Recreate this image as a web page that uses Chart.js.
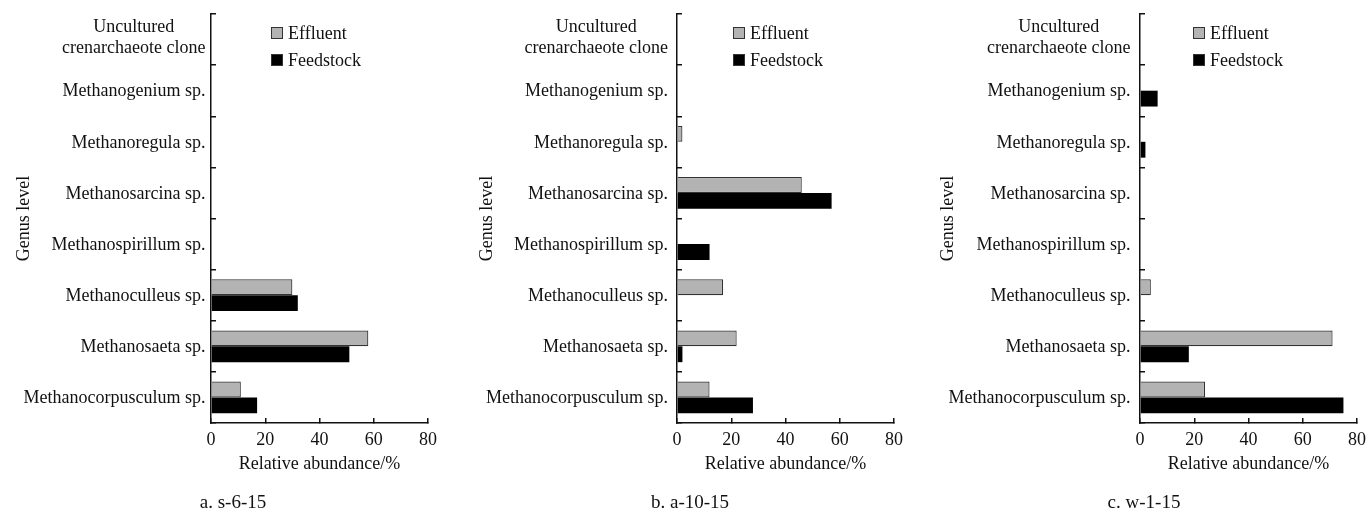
<!DOCTYPE html>
<html>
<head>
<meta charset="utf-8">
<title>Methanogen genera</title>
<script src="https://cdn.jsdelivr.net/npm/chart.js@4.4.1/dist/chart.umd.min.js"></script>
<style>
  body { margin: 0; background: #fff; width: 1368px; height: 510px; position: relative; overflow: hidden; }
  .panel { position: absolute; top: 0; width: 456px; height: 510px; }
  .caption {
    position: absolute; top: 490px; transform: translateX(-50%);
    font-family: "Liberation Serif", "Times New Roman", serif; font-size: 19px; line-height: 24px;
    color: #111; white-space: nowrap;
  }
</style>
</head>
<body>
<div class="panel" style="left:0px"><canvas id="chartA"></canvas></div>
<div class="panel" style="left:456px"><canvas id="chartB"></canvas></div>
<div class="panel" style="left:912px"><canvas id="chartC"></canvas></div>
<div class="caption" id="capA" style="left:233px"></div>
<div class="caption" id="capB" style="left:690px"></div>
<div class="caption" id="capC" style="left:1144px"></div>

<script>
// genera, top to bottom
const genera = [
    ["Uncultured", "crenarchaeote clone"],
    "Methanogenium sp.",
    "Methanoregula sp.",
    "Methanosarcina sp.",
    "Methanospirillum sp.",
    "Methanoculleus sp.",
    "Methanosaeta sp.",
    "Methanocorpusculum sp."
];

// relative abundance, %
const effluentA  = [0, 0, 0, 0, 0, 30, 58, 11];
const feedstockA = [0, 0, 0, 0, 0, 32, 51, 17];
const effluentB  = [0, 0, 2, 46, 0, 17, 22, 12];
const feedstockB = [0, 0, 0, 57, 12, 0, 2, 28];
const effluentC  = [0, 0, 0, 0, 0, 4, 71, 24];
const feedstockC = [0, 6.5, 2, 0, 0, 0, 18, 75];

const xTicks = [0, 20, 40, 60, 80];
const seriesNames = ["Effluent", "Feedstock"];
const captions = ["a. s-6-15", "b. a-10-15", "c. w-1-15"];

const INK = "#111";
const GREY = "#b3b3b3";
const FONT = { family: "'Liberation Serif', 'Times New Roman', serif", size: 18 };

// per-panel layout numbers
const panels = [
    { id: "chartA", cap: "capA", effluent: effluentA, feedstock: feedstockA, caption: captions[0],
      axisWidth: 211, padRight: 28, titlePad: 13, labelGap: 5.5, legendText: 77 },
    { id: "chartB", cap: "capB", effluent: effluentB, feedstock: feedstockB, caption: captions[1],
      axisWidth: 221, padRight: 18, titlePad: 20, labelGap: 9, legendText: 73 },
    { id: "chartC", cap: "capC", effluent: effluentC, feedstock: feedstockC, caption: captions[2],
      axisWidth: 228, padRight: 11, titlePad: 25, labelGap: 9.5, legendText: 70 }
];

// category names drawn right-aligned next to the axis; multi-line names are centred on their block
const genusLabels = {
    id: "genusLabels",
    afterDraw(chart, args, opts) {
        const ctx = chart.ctx;
        const yScale = chart.scales.y;
        const right = chart.chartArea.left - opts.gap;
        const lineH = 21;
        ctx.save();
        ctx.font = FONT.size + "px " + FONT.family;
        ctx.fillStyle = INK;
        ctx.textBaseline = "middle";
        genera.forEach((name, i) => {
            const y = yScale.getPixelForValue(i);
            if (Array.isArray(name)) {
                const w = Math.max(...name.map(s => ctx.measureText(s).width));
                const cx = right - w / 2;
                const top = y - 2 - (name.length - 1) * lineH / 2;
                ctx.textAlign = "center";
                name.forEach((s, k) => ctx.fillText(s, cx, top + k * lineH));
            } else {
                ctx.textAlign = "right";
                ctx.fillText(name, right, y + 1);
            }
        });
        ctx.restore();
    }
};

// stacked legend inside the plot, top-left
const boxLegend = {
    id: "boxLegend",
    afterDraw(chart, args, opts) {
        const ctx = chart.ctx;
        const area = chart.chartArea;
        const textX = area.left + opts.textOffset;
        const box = 12;
        ctx.save();
        ctx.font = FONT.size + "px " + FONT.family;
        ctx.textBaseline = "middle";
        ctx.textAlign = "left";
        chart.data.datasets.forEach((ds, i) => {
            const cy = area.top + 19 + i * 27;
            const bx = textX - 17;
            ctx.fillStyle = ds.backgroundColor;
            ctx.fillRect(bx, cy - box / 2, box, box);
            ctx.lineWidth = 1;
            ctx.strokeStyle = "#333";
            ctx.strokeRect(bx + 0.5, cy - box / 2 + 0.5, box - 1, box - 1);
            ctx.fillStyle = INK;
            ctx.fillText(ds.label, textX, cy + 1);
        });
        ctx.restore();
    }
};

function buildChart(p) {
    const ctx = document.getElementById(p.id).getContext("2d");
    document.getElementById(p.cap).textContent = p.caption;

    return new Chart(ctx, {
        type: "bar",
        data: {
            labels: genera,
            datasets: [
                {
                    label: seriesNames[0],
                    data: p.effluent,
                    backgroundColor: GREY,
                    borderColor: "#333",
                    borderWidth: 1.2,
                    inflateAmount: 0
                },
                {
                    label: seriesNames[1],
                    data: p.feedstock,
                    backgroundColor: "#000",
                    borderWidth: 0,
                    inflateAmount: 0
                }
            ]
        },
        options: {
            indexAxis: "y",
            responsive: true,
            maintainAspectRatio: false,
            animation: false,
            barPercentage: 1,
            categoryPercentage: 0.62,
            layout: { padding: { top: 14, right: p.padRight, bottom: 0, left: 0 } },
            plugins: {
                legend: { display: false },
                tooltip: { enabled: false },
                genusLabels: { gap: p.labelGap },
                boxLegend: { textOffset: p.legendText }
            },
            scales: {
                x: {
                    min: 0,
                    max: 80,
                    afterBuildTicks: scale => { scale.ticks = xTicks.map(v => ({ value: v })); },
                    afterFit: scale => {
                        // fixed band under the plot; end labels may overhang into the padding
                        scale.height = 87;
                        scale.paddingLeft = 0;
                        scale.paddingRight = 0;
                    },
                    border: { color: INK, width: 1.5 },
                    grid: { drawOnChartArea: false, tickLength: -5, color: INK, lineWidth: 1.5 },
                    ticks: { color: INK, font: FONT, padding: 11.5, maxRotation: 0 },
                    title: {
                        display: true,
                        text: "Relative abundance/%",
                        color: INK,
                        font: FONT,
                        padding: { top: 0, bottom: 34.5 }
                    }
                },
                y: {
                    afterFit: scale => { scale.width = p.axisWidth; },
                    border: { color: INK, width: 1.5 },
                    grid: { offset: true, drawOnChartArea: false, tickLength: -5, color: INK, lineWidth: 1.5 },
                    ticks: { display: false },
                    title: {
                        display: true,
                        text: "Genus level",
                        color: INK,
                        font: FONT,
                        padding: { top: p.titlePad, bottom: 0 }
                    }
                }
            }
        },
        plugins: [genusLabels, boxLegend]
    });
}

panels.forEach(buildChart);
</script>
</body>
</html>
